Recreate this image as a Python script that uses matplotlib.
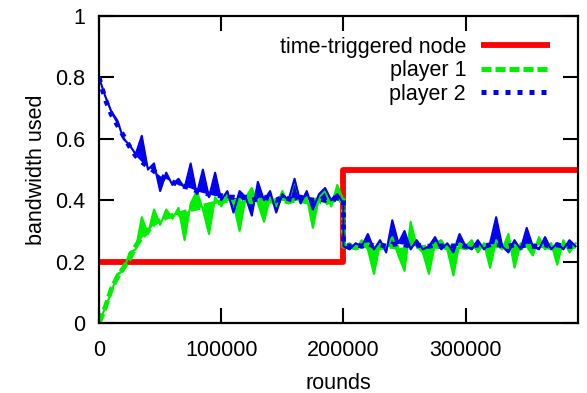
import numpy as np
import matplotlib.pyplot as plt

plt.rcParams['font.family'] = ['Liberation Sans', 'DejaVu Sans']

# time-triggered node
tt_rounds = [0, 200000, 200000, 392000]
tt_bw = [0.2, 0.2, 0.5, 0.5]

# samples every 5000 rounds, before and after the switch at 200000
rounds_a = np.arange(0, 200001, 5000)
rounds_b = np.arange(200000, 390001, 5000)

# player 1: smoothed and raw
p1_avg_a = [0.0, 0.05, 0.11, 0.15, 0.18, 0.21, 0.25, 0.28, 0.30, 0.325,
            0.335, 0.345, 0.35, 0.355, 0.36, 0.37, 0.375, 0.38, 0.385, 0.39,
            0.395, 0.40, 0.395, 0.40, 0.40, 0.395, 0.40, 0.40, 0.39, 0.40,
            0.40, 0.395, 0.40, 0.40, 0.395, 0.40, 0.40, 0.39, 0.40, 0.40, 0.40]
p1_avg_b = [0.25, 0.25, 0.245, 0.25, 0.255, 0.25, 0.245, 0.25, 0.25, 0.245,
            0.25, 0.255, 0.25, 0.245, 0.25, 0.25, 0.25, 0.245, 0.25, 0.25,
            0.245, 0.25, 0.25, 0.255, 0.25, 0.245, 0.25, 0.25, 0.25, 0.245,
            0.25, 0.25, 0.255, 0.25, 0.245, 0.25, 0.25, 0.25, 0.25]
p1_raw_a = [0.0, 0.05, 0.10, 0.16, 0.17, 0.23, 0.24, 0.345, 0.29, 0.37,
            0.32, 0.37, 0.34, 0.375, 0.27, 0.39, 0.43, 0.37, 0.29, 0.41,
            0.38, 0.42, 0.39, 0.30, 0.41, 0.44, 0.39, 0.33, 0.41, 0.38,
            0.43, 0.39, 0.465, 0.39, 0.41, 0.31, 0.41, 0.43, 0.38, 0.45, 0.40]
p1_raw_b = [0.25, 0.26, 0.24, 0.27, 0.24, 0.16, 0.26, 0.24, 0.28, 0.22,
            0.17, 0.33, 0.25, 0.23, 0.16, 0.26, 0.27, 0.24, 0.155, 0.26,
            0.25, 0.27, 0.23, 0.26, 0.18, 0.27, 0.24, 0.29, 0.18, 0.26,
            0.25, 0.22, 0.28, 0.24, 0.26, 0.19, 0.27, 0.23, 0.26]

# player 2: smoothed and raw
p2_avg_a = [0.80, 0.73, 0.68, 0.645, 0.61, 0.575, 0.545, 0.525, 0.51, 0.495,
            0.48, 0.47, 0.46, 0.45, 0.445, 0.44, 0.43, 0.425, 0.42, 0.415,
            0.415, 0.41, 0.41, 0.405, 0.41, 0.40, 0.405, 0.41, 0.405, 0.40,
            0.41, 0.405, 0.40, 0.41, 0.405, 0.40, 0.405, 0.40, 0.41, 0.40, 0.40]
p2_avg_b = [0.255, 0.25, 0.255, 0.25, 0.26, 0.25, 0.255, 0.25, 0.255, 0.26,
            0.255, 0.25, 0.255, 0.25, 0.25, 0.255, 0.25, 0.255, 0.25, 0.255,
            0.25, 0.25, 0.255, 0.25, 0.255, 0.26, 0.25, 0.25, 0.255, 0.25,
            0.255, 0.25, 0.25, 0.255, 0.25, 0.255, 0.25, 0.25, 0.25]
p2_raw_a = [0.80, 0.74, 0.69, 0.66, 0.60, 0.58, 0.55, 0.61, 0.50, 0.52,
            0.43, 0.49, 0.45, 0.47, 0.44, 0.52, 0.42, 0.50, 0.41, 0.49,
            0.40, 0.43, 0.36, 0.43, 0.41, 0.35, 0.46, 0.40, 0.43, 0.36,
            0.42, 0.40, 0.47, 0.39, 0.43, 0.37, 0.42, 0.44, 0.40, 0.42, 0.39]
p2_raw_b = [0.25, 0.24, 0.26, 0.25, 0.29, 0.24, 0.27, 0.23, 0.335, 0.26,
            0.30, 0.24, 0.27, 0.24, 0.25, 0.28, 0.24, 0.26, 0.23, 0.29,
            0.25, 0.24, 0.27, 0.24, 0.26, 0.345, 0.25, 0.23, 0.27, 0.24,
            0.31, 0.25, 0.24, 0.28, 0.24, 0.26, 0.24, 0.27, 0.25]

red = '#ff0000'
green = '#00ee00'
blue = '#0000ee'

fig = plt.figure(figsize=(5.87, 3.93), dpi=100)
ax = fig.add_axes([0.1687, 0.178, 0.816, 0.781])

ax.plot(tt_rounds, tt_bw, color=red, lw=4.2, label='time-triggered node',
        solid_capstyle='butt')

rr = np.concatenate([rounds_a, rounds_b])
for avg, raw, col, dash, lab in [
        (p1_avg_a + p1_avg_b, p1_raw_a + p1_raw_b, green, (2.0, 0.8), 'player 1'),
        (p2_avg_a + p2_avg_b, p2_raw_a + p2_raw_b, blue, (1.0, 1.4), 'player 2')]:
    ax.fill_between(rr, raw, avg, color=col, lw=0)
    ax.plot(rr, raw, color=col, lw=1.5)
    ax.plot(rr, avg, color=col, lw=3.6, dashes=dash, label=lab)

ax.set_xlim(0, 392000)
ax.set_ylim(0, 1)
ax.set_xticks([0, 100000, 200000, 300000])
ax.set_xticklabels(['0', '100000', '200000', '300000'])
ax.set_yticks([0, 0.2, 0.4, 0.6, 0.8, 1])
ax.set_yticklabels(['0', '0.2', '0.4', '0.6', '0.8', '1'])
ax.tick_params(direction='in', length=11, width=1.5, top=True, right=True,
               labelsize=15.5)
ax.tick_params(axis='x', pad=12)
ax.tick_params(axis='y', pad=10)
for s in ax.spines.values():
    s.set_linewidth(1.6)

ax.set_xlabel('rounds', fontsize=15.5, labelpad=9)
ax.set_ylabel('bandwidth used', fontsize=15.5, labelpad=6)

ax.legend(loc='upper right', bbox_to_anchor=(0.9415, 0.932), frameon=False,
          markerfirst=False, fontsize=15.5, handlelength=3.2,
          handletextpad=0.7, labelspacing=0.11, borderpad=0, borderaxespad=0)

fig.savefig('out.png', dpi=100)
